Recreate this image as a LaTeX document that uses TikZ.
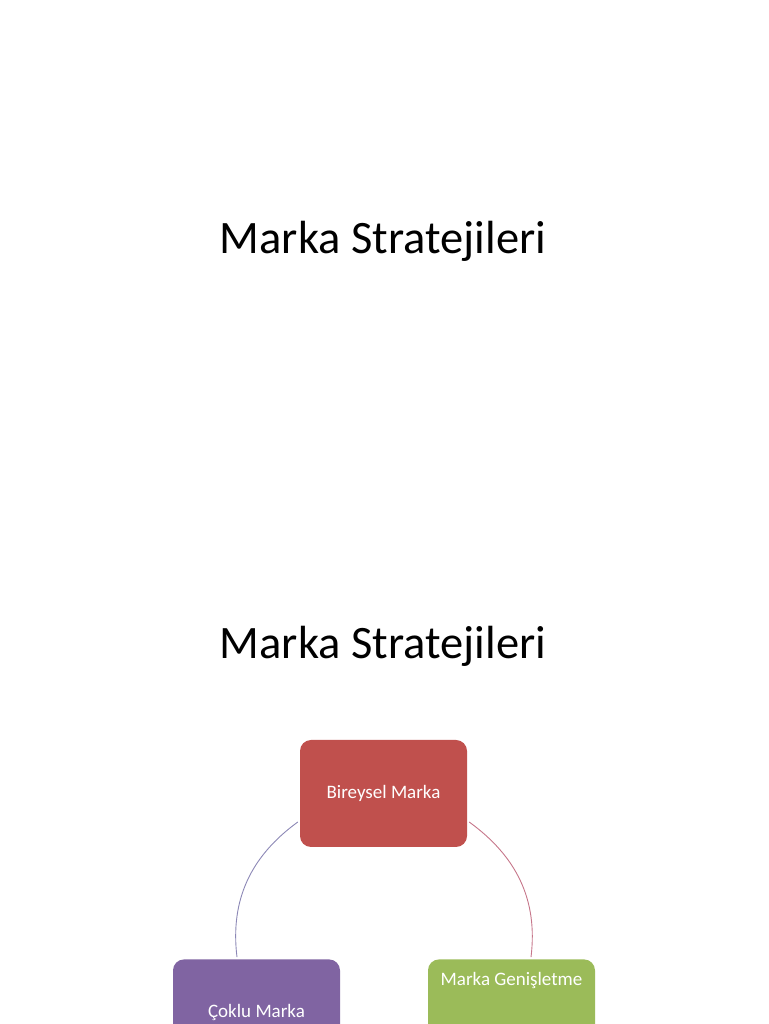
\documentclass[tikz,border=0pt]{standalone}
\usepackage{fontspec}
\setmainfont{Carlito}
\usepackage{xcolor}
\usepackage{tikz}
\usetikzlibrary{positioning}
\definecolor{bireysel}{RGB}{192,80,77}
\definecolor{coklu}{RGB}{128,100,162}
\definecolor{genis}{RGB}{155,187,89}
\definecolor{arcleft}{RGB}{140,136,182}
\definecolor{arcright}{RGB}{198,118,138}
\begin{document}
\begin{tikzpicture}[x=1pt, y=1pt, node distance=112pt,
    title/.style = {anchor=base, font=\fontsize{46.5}{54}\selectfont},
    stratbox/.style = {rounded corners=11pt, minimum width=167pt, minimum height=107pt, inner sep=0pt, text=white, font=\fontsize{19}{23}\selectfont},
    link/.style = {line width=0.9pt}]
    \useasboundingbox (0,0) rectangle (768,1024);
    \clip (0,0) rectangle (768,1024);
    \node[title] (t1) at (383,770) {Marka Stratejileri};
    \node[title] (t2) at (383,365) {Marka Stratejileri};
    \node[stratbox, fill=bireysel] (red) at (383.5,230.5) {Bireysel Marka};
    \node[stratbox, fill=coklu] (purple) [below=of red, xshift=-127pt] {Çoklu Marka};
    \node[stratbox, fill=genis] (green) [below=of red, xshift=128pt,
        label={[anchor=north, yshift=-10pt, text=white, font=\fontsize{19}{23}\selectfont]north:Marka Genişletme}] {};
    \draw[link, arcleft] ([xshift=-2pt, yshift=-28.5pt]red.west) to [out=216,in=97] ([xshift=-19.5pt, yshift=2pt]purple.north);
    \draw[link, arcright] ([xshift=2pt, yshift=-28.5pt]red.east) to [out=324,in=83] ([xshift=19.5pt, yshift=2pt]green.north);
\end{tikzpicture}
\end{document}
